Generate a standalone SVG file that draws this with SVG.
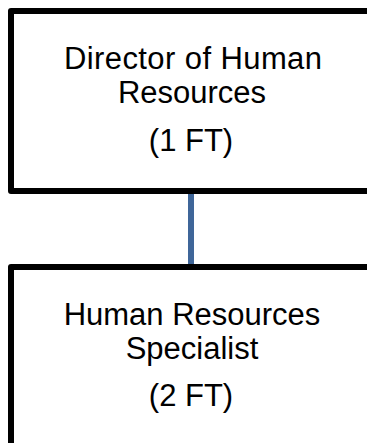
<svg xmlns="http://www.w3.org/2000/svg" width="367" height="443" viewBox="0 0 367 443">
<style>
.box{fill:#ffffff;stroke:#000000;stroke-width:6;stroke-linejoin:round}
.lbl{font-family:"Liberation Sans",Arial,sans-serif;font-size:31px;fill:#000000;text-anchor:middle}
.conn{stroke:#3f6699;stroke-width:6;fill:none}
</style>
<rect x="0" y="0" width="367" height="443" fill="#ffffff"/>
<g id="connectors">
<line class="conn" x1="191" y1="193" x2="191" y2="265"/>
</g>
<g id="director">
<rect class="box" x="11" y="11" width="380" height="180"/>
<text class="lbl" x="193" y="68.5" textLength="258" lengthAdjust="spacing">Director of Human</text>
<text class="lbl" x="192" y="103">Resources</text>
<text class="lbl" x="191" y="151">(1 FT)</text>
</g>
<g id="specialist">
<rect class="box" x="11" y="267" width="380" height="200"/>
<text class="lbl" x="192" y="325">Human Resources</text>
<text class="lbl" x="192" y="359">Specialist</text>
<text class="lbl" x="191" y="406">(2 FT)</text>
</g>
</svg>
